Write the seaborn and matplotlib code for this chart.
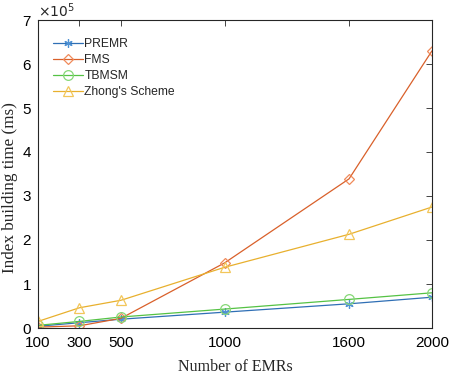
import matplotlib
matplotlib.use("Agg")
import matplotlib.pyplot as plt
import seaborn as sns
import pandas as pd

emrs = [100, 300, 500, 1000, 1600, 2000]
premr = [0.04, 0.12, 0.20, 0.36, 0.55, 0.70]
fms = [0.02, 0.05, 0.22, 1.48, 3.39, 6.30]
tbmsm = [0.06, 0.15, 0.25, 0.43, 0.65, 0.80]
zhong = [0.15, 0.46, 0.63, 1.38, 2.13, 2.75]
series_names = ["PREMR", "FMS", "TBMSM", "Zhong's Scheme"]
series_vals = [premr, fms, tbmsm, zhong]
x_ticks = [100, 300, 500, 1000, 1600, 2000]
y_ticks = [0, 1, 2, 3, 4, 5, 6, 7]

line_colors = ["#2f6fb5", "#d9602a", "#55c244", "#e8b02e"]
marker_colors = ["#4f92d4", "#f08a5a", "#86d877", "#f2c65a"]
markers = [(6, 2, 0), "D", "o", "^"]
msizes = [6, 5.5, 7, 7.5]

sns.set_theme(style="white")
plt.rcParams['font.family'] = ['Liberation Sans', 'DejaVu Sans']

fig = plt.figure(figsize=(4.52, 3.83), dpi=100)
ax = fig.add_axes([38/452, 1-328/383, (432-38)/452, (328-20)/383])

for name, vals, lc, mc, m, ms in zip(series_names, series_vals, line_colors, marker_colors, markers, msizes):
    df = pd.DataFrame({"x": emrs, "y": vals})
    sns.lineplot(data=df, x="x", y="y", ax=ax, color=lc, lw=0.9, marker=m,
                 markersize=ms, mfc="none", mec=mc, mew=0.9, label=name)

ax.set_xlim(100, 2000)
ax.set_ylim(0, 7)
ax.set_xticks(x_ticks)
ax.set_xticklabels([str(v) for v in x_ticks])
ax.set_yticks(y_ticks)
ax.set_yticklabels([str(v) for v in y_ticks])
ax.tick_params(direction="in", length=4, width=0.6, colors="#262626", labelsize=11,
               top=True, right=True, labelcolor="black")
ax.tick_params(axis="x", pad=6)
ax.tick_params(axis="y", pad=5)
for s in ax.spines.values():
    s.set_color("#262626")
    s.set_linewidth(0.8)
    s.set_visible(True)

ax.set_xlabel("Number of EMRs", family=["Liberation Serif", "DejaVu Serif"], fontsize=11.5, labelpad=6)
ax.set_ylabel("Index building time (ms)", family=["Liberation Serif", "DejaVu Serif"], fontsize=12.3)
ax.yaxis.set_label_coords(-0.052, 0.455)
ax.text(0.0, 1.0, r"$\times10^5$", transform=ax.transAxes, fontsize=10, ha="left", va="bottom",
        family=["Liberation Sans", "DejaVu Sans"])

leg = ax.legend(loc="upper left", bbox_to_anchor=(0.038, 0.94), frameon=False, fontsize=8.7,
                handlelength=2.5, handletextpad=0.1, labelspacing=0.33, borderaxespad=0, borderpad=0)

fig.savefig("out.png", dpi=100)
